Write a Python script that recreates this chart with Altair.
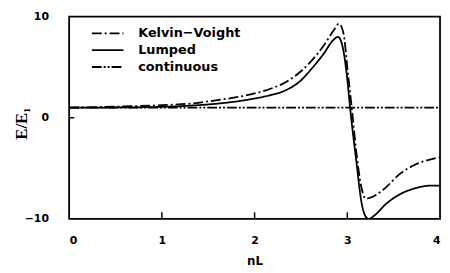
import altair as alt
import pandas as pd

# ---- data ----
kv_x = [0.0, 0.5, 1.0, 1.3, 1.6, 1.9, 2.15, 2.33, 2.5, 2.61, 2.75, 2.85, 2.91, 2.96, 3.0, 3.05, 3.1, 3.15, 3.2, 3.25, 3.39, 3.56, 3.74, 3.95, 4.0]
kv_y = [1.0, 1.1, 1.25, 1.4, 1.75, 2.2, 2.8, 3.5, 4.6, 5.6, 7.2, 8.6, 9.3, 8.3, 5.0, 0.8, -3.6, -6.8, -8.0, -7.9, -7.1, -5.6, -4.6, -4.0, -3.9]
lump_x = [0.0, 0.5, 1.0, 1.3, 1.6, 1.9, 2.15, 2.33, 2.5, 2.61, 2.75, 2.84, 2.9, 2.95, 3.0, 3.03, 3.1, 3.15, 3.2, 3.23, 3.3, 3.42, 3.56, 3.74, 3.91, 4.0]
lump_y = [1.0, 1.02, 1.08, 1.2, 1.4, 1.75, 2.2, 2.7, 3.7, 4.8, 6.4, 7.6, 8.0, 7.0, 3.8, 1.0, -4.5, -8.2, -9.8, -10.0, -9.6, -8.5, -7.6, -6.95, -6.7, -6.7]
cont_x = [0.0, 4.0]
cont_y = [1.0, 1.0]

series = ["Kelvin\u2212Voight", "Lumped", "continuous"]
dashes = [[10, 3, 2, 3], [1, 0], [10, 2, 2, 2, 2, 2]]

x_ticks = [0, 1, 2, 3, 4]
y_ticks = [-10, 0, 10]
inner_x_ticks = [1, 2, 3]
inner_y_ticks = [0]

rows = []
for name, xs, ys in [(series[0], kv_x, kv_y), (series[1], lump_x, lump_y), (series[2], cont_x, cont_y)]:
    for i, (a, b) in enumerate(zip(xs, ys)):
        rows.append({"series": name, "x": a, "y": b, "i": i})
df = pd.DataFrame(rows)

xs = alt.Scale(domain=[0, 4], nice=False, zero=False)
ys = alt.Scale(domain=[-10, 10], nice=False, zero=False)

lines = alt.Chart(df).mark_line(
    color="black", strokeWidth=1.8, interpolate="monotone", clip=True
).encode(
    x=alt.X("x:Q", scale=xs, axis=alt.Axis(
        values=x_ticks, format="d", title="nL", grid=False, domain=False, ticks=False,
        labelFont="DejaVu Sans", labelFontWeight="bold", labelFontSize=11,
        labelColor="black", labelPadding=16,
        titleFont="DejaVu Sans", titleFontWeight="bold", titleFontSize=12,
        titleColor="black", titlePadding=10)),
    y=alt.Y("y:Q", scale=ys, axis=alt.Axis(
        values=y_ticks, format="d", title="E/E\u2081", grid=False, domain=False, ticks=False,
        labelFont="DejaVu Sans", labelFontWeight="bold", labelFontSize=11,
        labelColor="black", labelPadding=21,
        titleFont="Liberation Serif", titleFontWeight="bold", titleFontSize=17,
        titleColor="black", titleX=-48, titleY=108, titleAlign="center",
        titleBaseline="middle")),
    strokeDash=alt.StrokeDash("series:N", scale=alt.Scale(domain=series, range=dashes),
        legend=alt.Legend(
            title=None, orient="none", legendX=30, legendY=8, padding=0,
            symbolType="M-2,0H2", symbolSize=256, symbolStrokeWidth=1.8,
            symbolStrokeColor="black", rowPadding=1,
            labelFont="DejaVu Sans", labelFontWeight="bold", labelFontSize=13,
            labelColor="black", labelOffset=22)),
    order="i:Q",
)

xt = pd.DataFrame({"x": inner_x_ticks})
xtick = alt.Chart(xt).mark_rule(color="black", strokeWidth=1.5).encode(
    x="x:Q", y=alt.datum(-10), y2=alt.datum(-9.35))

yt = pd.DataFrame({"y": inner_y_ticks})
ytick = alt.Chart(yt).mark_rule(color="black", strokeWidth=1.5).encode(
    y="y:Q", x=alt.datum(0), x2=alt.datum(0.055))

chart = alt.layer(lines, xtick, ytick).properties(
    width=376, height=205,
    background="white",
    autosize=alt.AutoSizeParams(type="none"),
    padding={"left": 62, "top": 7, "right": 2, "bottom": 50},
).configure_view(stroke="black", strokeWidth=1.8)

chart.save("out.html", embed_options={"renderer": "svg", "actions": False})
